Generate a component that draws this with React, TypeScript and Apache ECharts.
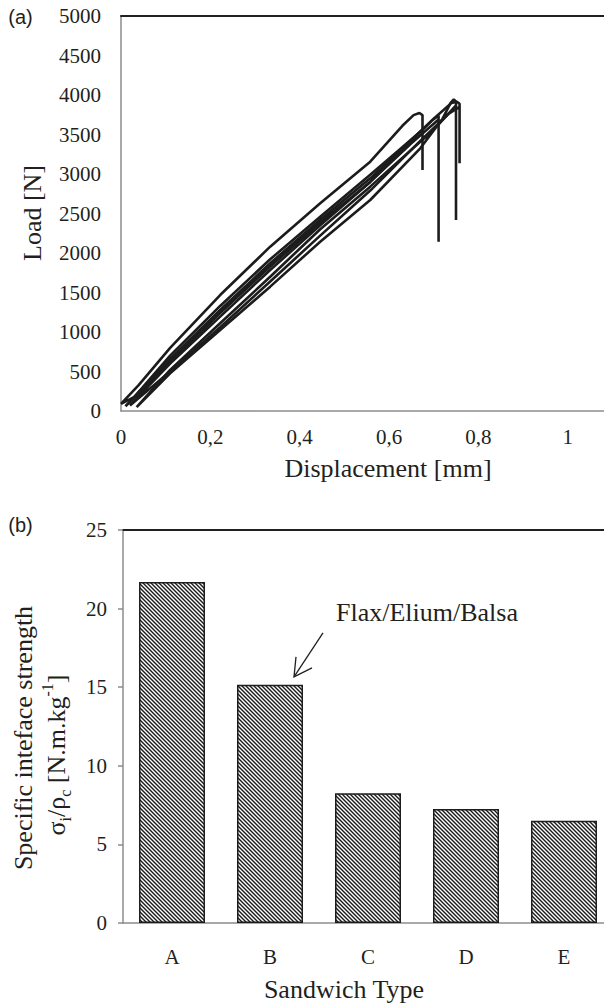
import React, { useEffect, useRef } from "react";
import * as echarts from "echarts";

// ---------- Data: (a) load–displacement curves [displacement mm, load N] ----------
const curveA: number[][] = [
  [0.0, 90], [0.04, 330], [0.11, 800], [0.222, 1468], [0.334, 2080], [0.446, 2629],
  [0.558, 3156], [0.63, 3610], [0.655, 3745], [0.668, 3772], [0.675, 3745],
  [0.675, 3050], [0.675, 3560], [0.62, 3290], [0.558, 2990], [0.446, 2460],
  [0.334, 1920], [0.222, 1330], [0.11, 700], [0.03, 180], [0.0, 90],
];
const curveB: number[][] = [
  [0.01, 60], [0.11, 660], [0.222, 1280], [0.334, 1870], [0.446, 2420], [0.558, 2945],
  [0.65, 3430], [0.695, 3670], [0.711, 3740], [0.711, 2143], [0.711, 3690],
  [0.65, 3390], [0.558, 2900], [0.446, 2380], [0.334, 1830], [0.222, 1240],
  [0.11, 620], [0.01, 60],
];
const curveC: number[][] = [
  [0.035, 50], [0.11, 477], [0.222, 1025], [0.334, 1574], [0.446, 2143], [0.558, 2671],
  [0.67, 3325], [0.72, 3700], [0.738, 3900], [0.745, 3945], [0.75, 3915],
  [0.75, 2418], [0.75, 3870], [0.7, 3560], [0.558, 2840], [0.446, 2300],
  [0.334, 1700], [0.222, 1110], [0.11, 520], [0.035, 50],
];
const curveD: number[][] = [
  [0.02, 70], [0.11, 600], [0.222, 1194], [0.334, 1785], [0.446, 2350], [0.558, 2900],
  [0.647, 3400], [0.7, 3700], [0.74, 3900], [0.752, 3915], [0.758, 3890],
  [0.758, 3135], [0.758, 3850], [0.733, 3760], [0.67, 3420], [0.558, 2790],
  [0.446, 2220], [0.334, 1640], [0.222, 1060], [0.11, 500], [0.02, 70],
];
const displacementRange = [0, 1.2];
const displacementStep = 0.2;
const displacementLastLabel = 1;
const loadRange = [0, 5000];
const loadStep = 500;

// ---------- Data: (b) specific interface strength ----------
const sandwichTypes = ["A", "B", "C", "D", "E"];
const specificStrength = [21.7, 15.15, 8.25, 7.25, 6.5];
const strengthRange = [0, 25];
const strengthStep = 5;
const annotatedType = "B";
const annotationText = "Flax/Elium/Balsa";

const SERIF = "Liberation Serif";
const SANS = "Liberation Sans";
const INK = "#231f20";
const GRAY_AXIS = "#8c8c8c";

function makeHatch(): HTMLCanvasElement {
  const c = document.createElement("canvas");
  c.width = 4;
  c.height = 4;
  const ctx = c.getContext("2d")!;
  ctx.fillStyle = "#ffffff";
  ctx.fillRect(0, 0, 4, 4);
  ctx.strokeStyle = "#1a1a1a";
  ctx.lineWidth = 1.4;
  for (const o of [-4, 0, 4]) {
    ctx.beginPath();
    ctx.moveTo(o - 1, -1);
    ctx.lineTo(o + 5, 5);
    ctx.stroke();
  }
  return c;
}

export default function App() {
  const ref = useRef<HTMLDivElement>(null);

  useEffect(() => {
    if (!ref.current) return;
    const chart = echarts.init(ref.current, undefined, { renderer: "svg" });

    const xFmt = (v: number) => {
      if (v > displacementLastLabel + 1e-9) return "";
      if (Math.abs(v) < 1e-9) return "0";
      return String(+v.toFixed(1)).replace(".", ",");
    };
    const plainFmt = (v: number) => String(v);

    const lineSeries = [curveA, curveB, curveC, curveD].map((d) => ({
      type: "line",
      xAxisIndex: 0,
      yAxisIndex: 0,
      data: d,
      symbol: "none",
      showSymbol: false,
      smooth: false,
      silent: true,
      lineStyle: { color: "#1c1c1c", width: 2.6 },
    }));

    const tickFont = { fontSize: 21, fontFamily: SERIF, color: INK };

    chart.setOption({
      animation: false,
      backgroundColor: "#ffffff",
      grid: [
        { left: 121, top: 16, width: 536, height: 395 },
        { left: 123, top: 530, width: 490, height: 393 },
      ],
      xAxis: [
        {
          gridIndex: 0, type: "value", min: displacementRange[0], max: displacementRange[1],
          interval: displacementStep,
          axisLine: { show: true, onZero: false, lineStyle: { color: GRAY_AXIS, width: 1.5 } },
          axisTick: { show: false }, splitLine: { show: false },
          axisLabel: { ...tickFont, margin: 15, formatter: xFmt, showMaxLabel: false },
        },
        {
          gridIndex: 0, type: "value", position: "top", min: displacementRange[0], max: displacementRange[1],
          axisLine: { show: true, onZero: false, lineStyle: { color: INK, width: 2 } },
          axisTick: { show: false }, axisLabel: { show: false }, splitLine: { show: false },
        },
        {
          gridIndex: 1, type: "category", data: sandwichTypes,
          axisLine: { show: true, onZero: false, lineStyle: { color: GRAY_AXIS, width: 1.5 } },
          axisTick: { show: false },
          axisLabel: { ...tickFont, margin: 23 },
        },
        {
          gridIndex: 1, type: "category", position: "top", data: sandwichTypes,
          axisLine: { show: true, onZero: false, lineStyle: { color: INK, width: 2 } },
          axisTick: { show: false }, axisLabel: { show: false }, splitLine: { show: false },
        },
      ],
      yAxis: [
        {
          gridIndex: 0, type: "value", min: loadRange[0], max: loadRange[1], interval: loadStep,
          axisLine: { show: true, onZero: false, lineStyle: { color: GRAY_AXIS, width: 1.5 } },
          axisTick: { show: false }, splitLine: { show: false },
          axisLabel: { ...tickFont, margin: 20, formatter: plainFmt },
        },
        {
          gridIndex: 1, type: "value", min: strengthRange[0], max: strengthRange[1], interval: strengthStep,
          axisLine: { show: true, onZero: false, lineStyle: { color: GRAY_AXIS, width: 1.5 } },
          axisTick: { show: true, length: 5, lineStyle: { color: GRAY_AXIS, width: 1.5 } },
          splitLine: { show: false },
          axisLabel: { ...tickFont, margin: 16, formatter: plainFmt },
        },
      ],
      series: [
        ...lineSeries,
        {
          type: "bar",
          xAxisIndex: 2,
          yAxisIndex: 1,
          data: specificStrength,
          barWidth: 66,
          silent: true,
          itemStyle: {
            color: { image: makeHatch(), repeat: "repeat" },
            borderColor: "#1c1c1c",
            borderWidth: 1.5,
          },
        },
      ],
    });

    const idx = sandwichTypes.indexOf(annotatedType);
    const [bx, by] = chart.convertToPixel({ seriesIndex: 4 }, [idx, specificStrength[idx]]) as number[];
    const tipX = bx + 24;
    const tipY = by - 8;

    const titleStyle = { fontSize: 26, fontFamily: SERIF, fill: INK, align: "center", verticalAlign: "middle" };

    chart.setOption({
      graphic: [
        { type: "text", x: 20.5, y: 17, style: { text: "(a)", fontSize: 20, fontFamily: SANS, fill: INK, align: "center", verticalAlign: "middle" } },
        { type: "text", x: 20.5, y: 525, style: { text: "(b)", fontSize: 20, fontFamily: SANS, fill: INK, align: "center", verticalAlign: "middle" } },
        { type: "text", x: 32, y: 213, rotation: Math.PI / 2, style: { ...titleStyle, text: "Load [N]" } },
        { type: "text", x: 388, y: 468, style: { ...titleStyle, text: "Displacement [mm]" } },
        { type: "text", x: 344, y: 989, style: { ...titleStyle, text: "Sandwich Type" } },
        { type: "text", x: 23, y: 738, rotation: Math.PI / 2, style: { ...titleStyle, text: "Specific inteface strength" } },
        {
          type: "text", x: 56, y: 755, rotation: Math.PI / 2,
          style: {
            text: "{n|σ}{s|i}{n|/ρ}{s|c}{n| [N.m.kg}{p|-1}{n|]}",
            align: "center", verticalAlign: "middle",
            fontSize: 26, fontFamily: SERIF, fill: INK,
            rich: {
              n: { fontSize: 26, fontFamily: SERIF, fill: INK, lineHeight: 34 },
              s: { fontSize: 16, fontFamily: SERIF, fill: INK, lineHeight: 16, verticalAlign: "bottom" },
              p: { fontSize: 16, fontFamily: SERIF, fill: INK, lineHeight: 16, verticalAlign: "top" },
            },
          },
        },
        {
          type: "text", x: tipX + 42, y: tipY - 64,
          style: { text: annotationText, fontSize: 26, fontFamily: SERIF, fill: INK, align: "left", verticalAlign: "middle" },
        },
        {
          type: "line",
          shape: { x1: tipX + 29, y1: tipY - 44, x2: tipX, y2: tipY },
          style: { stroke: INK, lineWidth: 1.3 },
        },
        {
          type: "polyline",
          shape: { points: [[tipX + 2, tipY - 20], [tipX, tipY], [tipX + 18, tipY - 9]] },
          style: { stroke: INK, lineWidth: 1.3, fill: "none" },
        },
      ],
    });

    return () => chart.dispose();
  }, []);

  return (
    <div
      style={{ position: "absolute", left: 0, top: 0, width: 604, height: 1006, overflow: "hidden", background: "#fff" }}
    >
      <div ref={ref} style={{ width: 700, height: 1006 }} />
    </div>
  );
}
